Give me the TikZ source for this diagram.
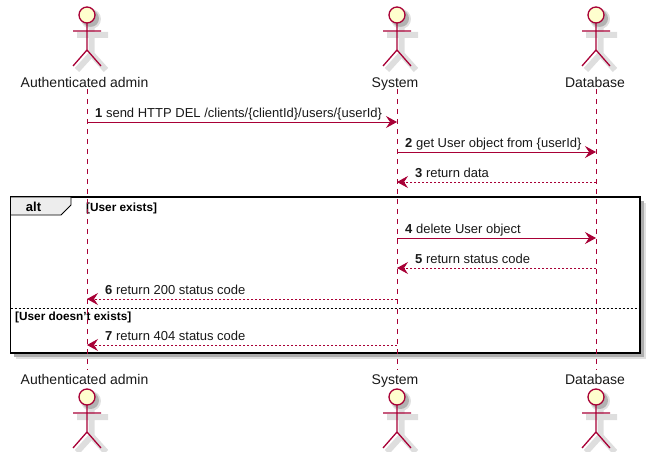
\documentclass[tikz,border=0pt]{standalone}
\usepackage{fontspec}
\setmainfont{Liberation Sans}
\usetikzlibrary{arrows.meta}
\definecolor{plum}{HTML}{A80036}
\definecolor{cream}{HTML}{FEFECE}
\begin{document}
\begin{tikzpicture}[
    x=1pt, y=-1pt,
    nom/.style = {font=\fontsize{14}{16}\selectfont, text=black!90, anchor=base, inner sep=0pt},
    msg/.style = {font=\fontsize{13}{15}\selectfont, text=black!90, anchor=base west, inner sep=0pt},
    cond/.style = {font=\fontsize{11.8}{13}\selectfont\bfseries, text=black, anchor=base west, inner sep=0pt},
    ligne/.style = {plum, line width=0.8pt, dash pattern=on 5pt off 5pt},
    appel/.style = {plum, line width=1pt, -{Stealth[length=11pt, width=12pt, inset=4pt]}},
    retour/.style = {plum, line width=0.8pt, dash pattern=on 2pt off 2pt, -{Stealth[length=11pt, width=12pt, inset=4pt]}},
    ombre/.style = {black!13, line width=6pt},
    cadre/.style = {draw=black, line width=1.8pt},
    acteur/.pic = {
        % ombre
        \fill[black!12] (4,4) circle (10);
        \fill[black!30] (3.5,3.5) circle (8.5);
        \draw[ombre] (-10,20) -- (21,20) (4.5,12) -- (4.5,39) -- (-10,55) (4.5,39) -- (19,55);
        % corps
        \draw[plum, line width=1.3pt, fill=cream] (0,0) circle (8);
        \draw[plum, line width=1.3pt] (-14,16) -- (14,16) (0,8) -- (0,35) -- (-14,51) (0,35) -- (14,51);
    }
]
    \useasboundingbox (0,0) rectangle (653,452);

    % --- Acteurs du haut et du bas ---
    \pic at (87,15) {acteur};
    \pic at (397,15) {acteur};
    \pic at (596,15) {acteur};
    \pic at (87,397) {acteur};
    \pic at (397,397) {acteur};
    \pic at (596,397) {acteur};

    \node[nom] (adminH) at (84.5,87) {Authenticated admin};
    \node[nom] (systemH) at (395,87) {System};
    \node[nom] (dbH) at (595,87) {Database};
    \node[nom] (adminB) at (84.5,384) {Authenticated admin};
    \node[nom] (systemB) at (395,384) {System};
    \node[nom] (dbB) at (595,384) {Database};

    % --- Cadre alt ---
    \fill[black!12] (16,203) rectangle (646,359);
    \fill[black!32] (14,201) rectangle (643.5,356.5);
    \filldraw[cadre, fill=white] (10.5,197) rectangle (640,353);
    \filldraw[black, line width=0.8pt, fill=black!7] (10.5,197) -- (71,197) -- (71,205) -- (61,215) -- (10.5,215) -- cycle;
    \node[font=\fontsize{13}{15}\selectfont\bfseries, inner sep=0pt] (alt) at (33.5,207) {alt};
    \node[cond] (oui) at (86,211) {[User exists]};
    \coordinate (sepG) at (10.5,308);
    \coordinate (sepD) at (640,308);
    \draw[black, line width=0.8pt, dash pattern=on 2pt off 2pt] (sepG) -- (sepD);
    \node[cond] (non) at (15,320) {[User doesn't exists]};

    % --- Lignes de vie ---
    \coordinate (a0) at (87,89);
    \coordinate (a1) at (87,370);
    \coordinate (s0) at (397,89);
    \coordinate (s1) at (397,370);
    \coordinate (d0) at (596,89);
    \coordinate (d1) at (596,370);
    \draw[ligne] (a0) -- (a1);
    \draw[ligne] (s0) -- (s1);
    \draw[ligne] (d0) -- (d1);

    % --- Messages ---
    \coordinate (m1a) at (87,122);  \coordinate (m1s) at (397,122);
    \coordinate (m2s) at (397,152); \coordinate (m2d) at (596,152);
    \coordinate (m3s) at (397,182); \coordinate (m3d) at (596,182);
    \coordinate (m4s) at (397,238); \coordinate (m4d) at (596,238);
    \coordinate (m5s) at (397,268); \coordinate (m5d) at (596,268);
    \coordinate (m6a) at (87,299);  \coordinate (m6s) at (397,299);
    \coordinate (m7a) at (87,345);  \coordinate (m7s) at (397,345);

    \draw[appel] (m1a) -- (m1s);
    \draw[appel] (m2s) -- (m2d);
    \draw[retour] (m3d) -- (m3s);
    \draw[appel] (m4s) -- (m4d);
    \draw[retour] (m5d) -- (m5s);
    \draw[retour] (m6s) -- (m6a);
    \draw[retour] (m7s) -- (m7a);

    \node[msg] (t1) at (95,117) {\textbf{1} send HTTP DEL /clients/\{clientId\}/users/\{userId\}};
    \node[msg] (t2) at (405,147) {\textbf{2} get User object from \{userId\}};
    \node[msg] (t3) at (415,177) {\textbf{3} return data};
    \node[msg] (t4) at (405,233) {\textbf{4} delete User object};
    \node[msg] (t5) at (415,263) {\textbf{5} return status code};
    \node[msg] (t6) at (105,294) {\textbf{6} return 200 status code};
    \node[msg] (t7) at (105,340) {\textbf{7} return 404 status code};
\end{tikzpicture}
\end{document}
